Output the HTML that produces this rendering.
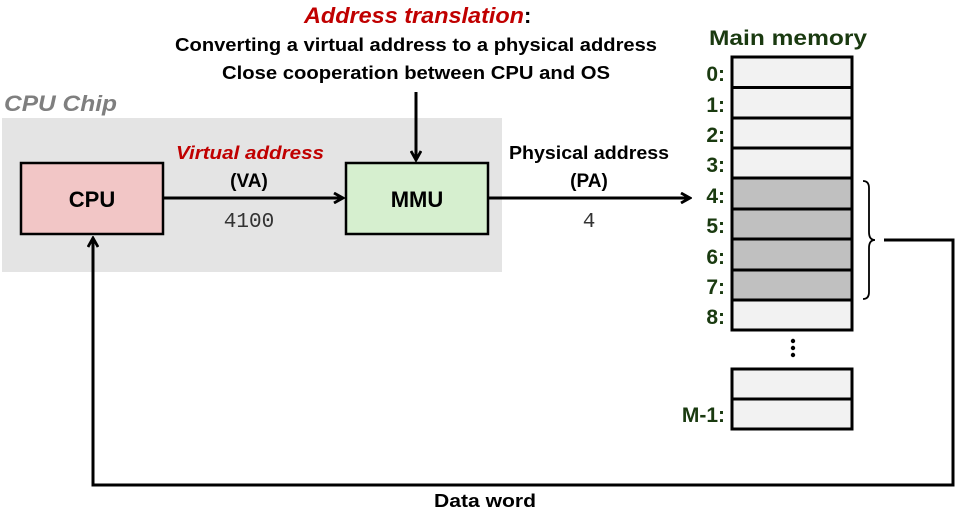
<!DOCTYPE html>
<html><head><meta charset="utf-8"><style>
html,body{margin:0;padding:0;background:#fff;}
svg text{font-family:"Liberation Sans",sans-serif;font-weight:bold;}
</style></head><body>
<svg width="963" height="516" viewBox="0 0 963 516" xmlns="http://www.w3.org/2000/svg">
<defs>
<marker id="a" markerWidth="12" markerHeight="12" refX="10" refY="6" orient="auto" markerUnits="userSpaceOnUse">
<path d="M1,1 L10,6 L1,11" fill="none" stroke="#000" stroke-width="2.8"/>
</marker>
</defs>
<rect x="2" y="118" width="500" height="154" fill="#e4e4e4"/>
<text x="4" y="111" font-size="22" font-style="italic" fill="#7f7f7f" textLength="113" lengthAdjust="spacingAndGlyphs">CPU Chip</text>
<text x="304" y="23" font-size="22" font-style="italic" fill="#c00000" textLength="220" lengthAdjust="spacingAndGlyphs">Address translation</text>
<text x="524" y="23" font-size="22" fill="#000">:</text>
<text x="416" y="51" font-size="18" text-anchor="middle" textLength="482" lengthAdjust="spacingAndGlyphs">Converting a virtual address to a physical address</text>
<text x="416" y="79" font-size="18" text-anchor="middle" textLength="388" lengthAdjust="spacingAndGlyphs">Close cooperation between CPU and OS</text>
<line x1="416" y1="92" x2="416" y2="160" stroke="#000" stroke-width="3" marker-end="url(#a)"/>
<rect x="21" y="163" width="142" height="71" fill="#f2c6c6" stroke="#000" stroke-width="2.5"/>
<text x="92" y="207" font-size="22" text-anchor="middle">CPU</text>
<rect x="346" y="163" width="142" height="71" fill="#d6efcf" stroke="#000" stroke-width="2.5"/>
<text x="417" y="207" font-size="22" text-anchor="middle">MMU</text>
<line x1="163" y1="198" x2="343" y2="198" stroke="#000" stroke-width="3" marker-end="url(#a)"/>
<text x="250" y="159" font-size="18" font-style="italic" fill="#c00000" text-anchor="middle" textLength="148" lengthAdjust="spacingAndGlyphs">Virtual address</text>
<text x="249" y="187" font-size="19" text-anchor="middle">(VA)</text>
<text x="249" y="227" font-size="21" style="font-family:'Liberation Mono',monospace;font-weight:normal" fill="#333" text-anchor="middle">4100</text>
<line x1="488" y1="198" x2="690" y2="198" stroke="#000" stroke-width="3" marker-end="url(#a)"/>
<text x="589" y="159" font-size="18" text-anchor="middle" textLength="160" lengthAdjust="spacingAndGlyphs">Physical address</text>
<text x="589" y="187" font-size="19" text-anchor="middle">(PA)</text>
<text x="589" y="227" font-size="21" style="font-family:'Liberation Mono',monospace;font-weight:normal" fill="#333" text-anchor="middle">4</text>
<text x="788" y="45" font-size="21" fill="#1a3a10" text-anchor="middle" textLength="158" lengthAdjust="spacingAndGlyphs">Main memory</text>
<g stroke="#000" stroke-width="3">
<rect x="732" y="57" width="120" height="30.5" fill="#f2f2f2"/>
<rect x="732" y="87.5" width="120" height="30.5" fill="#f2f2f2"/>
<rect x="732" y="118" width="120" height="30" fill="#f2f2f2"/>
<rect x="732" y="148" width="120" height="30" fill="#f2f2f2"/>
<rect x="732" y="178" width="120" height="31" fill="#c0c0c0"/>
<rect x="732" y="209" width="120" height="30" fill="#c0c0c0"/>
<rect x="732" y="239" width="120" height="31" fill="#c0c0c0"/>
<rect x="732" y="270" width="120" height="30" fill="#c0c0c0"/>
<rect x="732" y="300" width="120" height="30" fill="#f2f2f2"/>
<rect x="732" y="369" width="120" height="30" fill="#f2f2f2"/>
<rect x="732" y="399" width="120" height="30" fill="#f2f2f2"/>
</g>
<g font-size="21" fill="#1a3a10" text-anchor="end">
<text x="725" y="81">0:</text><text x="725" y="112">1:</text><text x="725" y="142">2:</text><text x="725" y="172">3:</text>
<text x="725" y="203">4:</text><text x="725" y="233">5:</text><text x="725" y="264">6:</text><text x="725" y="294">7:</text>
<text x="725" y="324">8:</text><text x="725" y="422">M-1:</text>
</g>
<circle cx="793" cy="341" r="2.2" fill="#000"/><circle cx="793" cy="348" r="2.2" fill="#000"/><circle cx="793" cy="355" r="2.2" fill="#000"/>
<path d="M863,181 Q869,181 869,188 L869,232 Q869,240 875,240 Q869,240 869,248 L869,292 Q869,299 863,299" fill="none" stroke="#000" stroke-width="1.8"/>
<polyline points="884,240 953,240 953,485 93,485 93,238" fill="none" stroke="#000" stroke-width="3" marker-end="url(#a)"/>
<text x="485" y="507" font-size="18" text-anchor="middle" textLength="102" lengthAdjust="spacingAndGlyphs">Data word</text>
</svg>
</body></html>
